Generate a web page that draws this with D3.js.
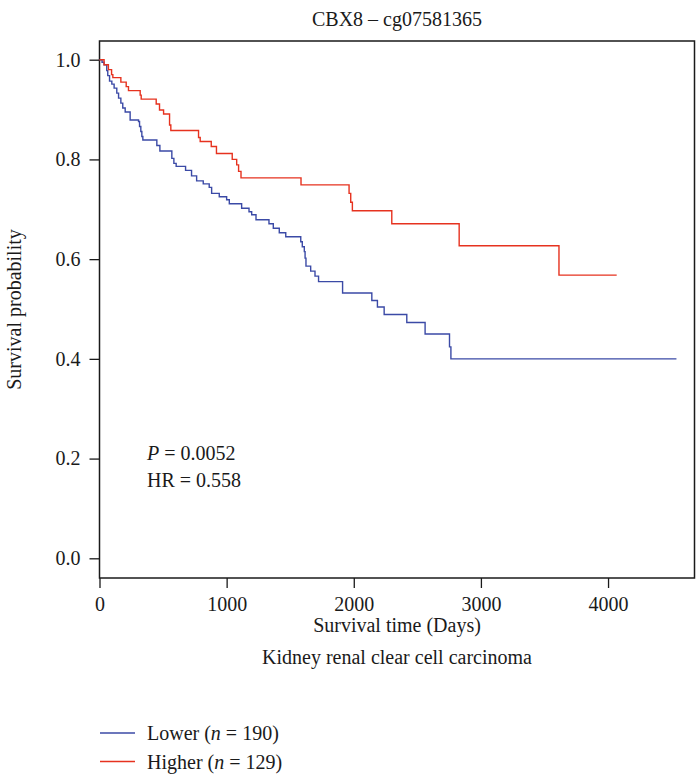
<html>
<head>
    <script src="https://cdn.jsdelivr.net/npm/d3@7"></script>
    <style>
        body {
            margin: 0;
            background: white;
            font-family: "Liberation Serif", "DejaVu Serif", serif;
        }
        svg text {
            fill: #1a1a1a;
        }
    </style>
</head>
<body>
<svg id="KMChart"></svg>
<script>
    // step points (days, survival probability)
    let lowerDays = [0, 20, 36, 57, 65, 79, 97, 115, 136, 150, 168, 183, 202, 241, 307, 315, 325, 333, 341,
        451, 475, 569, 585, 603, 677, 724, 764, 816, 863, 882, 942, 1000, 1021, 1118, 1176, 1197, 1231,
        1333, 1367, 1414, 1465, 1583, 1595, 1611, 1617, 1624, 1661, 1695, 1723, 1912, 2142, 2186, 2239,
        2417, 2561, 2753, 2764, 4538];
    let lowerSurv = [1.0, 0.995, 0.990, 0.978, 0.968, 0.957, 0.951, 0.943, 0.933, 0.923, 0.913, 0.903, 0.895, 0.879, 0.876, 0.866, 0.856, 0.846, 0.839,
        0.828, 0.817, 0.802, 0.792, 0.786, 0.778, 0.767, 0.757, 0.751, 0.744, 0.732, 0.725, 0.719, 0.711, 0.702, 0.695, 0.689, 0.679,
        0.671, 0.662, 0.653, 0.645, 0.635, 0.625, 0.615, 0.602, 0.586, 0.576, 0.566, 0.555, 0.532, 0.517, 0.504, 0.489,
        0.473, 0.450, 0.424, 0.400, 0.400];

    let higherDays = [0, 36, 70, 95, 105, 168, 210, 228, 320, 328, 446, 472, 504, 551, 561, 779, 792, 879, 920,
        1044, 1079, 1094, 1113, 1585, 1963, 1976, 1989, 2299, 2829, 3614, 4068];
    let higherSurv = [1.0, 0.990, 0.980, 0.970, 0.964, 0.955, 0.946, 0.938, 0.929, 0.921, 0.911, 0.899, 0.891, 0.869, 0.858, 0.844, 0.836, 0.826, 0.812,
        0.800, 0.789, 0.776, 0.763, 0.749, 0.732, 0.714, 0.697, 0.671, 0.627, 0.568, 0.568];

    let xTicks = [0, 1000, 2000, 3000, 4000];
    let yTicks = [0.0, 0.2, 0.4, 0.6, 0.8, 1.0];

    let groupNames = ["Lower", "Higher"];
    let groupCounts = [190, 129];
    let groupColors = ["#3b4aa6", "#e6321f"];

    function getConfig() {
        let width = 699;
        let height = 775;
        let box = { left: 99.5, right: 694.5, top: 41, bottom: 578 };
        let container = d3.select("#KMChart")
            .attr("width", width)
            .attr("height", height);
        return { width, height, box, container };
    }

    function getScales(config) {
        let { box } = config;
        let xScale = d3.scaleLinear()
            .domain([0, 4680])
            .range([box.left, box.right]);
        let yScale = d3.scaleLinear()
            .domain([-0.0395, 1.0375])
            .range([box.bottom, box.top]);
        return { xScale, yScale };
    }

    function drawAxes(scales, config) {
        let { xScale, yScale } = scales;
        let { container, box } = config;

        container.append("rect")
            .attr("x", box.left)
            .attr("y", box.top)
            .attr("width", box.right - box.left)
            .attr("height", box.bottom - box.top)
            .style("fill", "none")
            .style("stroke", "#1a1a1a")
            .style("stroke-width", 1.5);

        let axisX = d3.axisBottom(xScale)
            .tickValues(xTicks)
            .tickSize(10)
            .tickPadding(9)
            .tickFormat(d3.format("d"));
        let gx = container.append("g")
            .attr("transform", `translate(0,${box.bottom})`)
            .call(axisX);

        let axisY = d3.axisLeft(yScale)
            .tickValues(yTicks)
            .tickSize(10)
            .tickPadding(9)
            .tickFormat(d3.format(".1f"));
        let gy = container.append("g")
            .attr("transform", `translate(${box.left},0)`)
            .call(axisY);

        [gx, gy].forEach(g => {
            g.select(".domain").remove();
            g.selectAll(".tick line").style("stroke", "#1a1a1a").style("stroke-width", 1.3);
            g.selectAll(".tick text")
                .style("font-family", "Liberation Serif, serif")
                .style("font-size", "20px")
                .style("fill", "#1a1a1a");
        });

        let cx = (box.left + box.right) / 2;

        container.append("text")
            .attr("x", cx)
            .attr("y", 26)
            .style("text-anchor", "middle")
            .style("font-size", "20px")
            .text("CBX8 \u2013 cg07581365");

        container.append("text")
            .attr("x", cx)
            .attr("y", 632)
            .style("text-anchor", "middle")
            .style("font-size", "20px")
            .text("Survival time (Days)");

        container.append("text")
            .attr("x", cx)
            .attr("y", 664)
            .style("text-anchor", "middle")
            .style("font-size", "20px")
            .text("Kidney renal clear cell carcinoma");

        container.append("text")
            .attr("transform", `translate(21,${(box.top + box.bottom) / 2}) rotate(-90)`)
            .style("text-anchor", "middle")
            .style("font-size", "20px")
            .text("Survival probability");
    }

    function drawCurves(scales, config) {
        let { xScale, yScale } = scales;
        let { container } = config;

        let line = d3.line()
            .x(d => xScale(d[0]))
            .y(d => yScale(d[1]))
            .curve(d3.curveStepAfter);

        let series = [
            d3.zip(lowerDays, lowerSurv),
            d3.zip(higherDays, higherSurv)
        ];

        container.selectAll(".km")
            .data(series)
            .enter().append("path")
            .attr("class", "km")
            .attr("d", line)
            .style("fill", "none")
            .style("stroke", (d, i) => groupColors[i])
            .style("stroke-width", 1.4);

        let stats = container.append("g").style("font-size", "20px");
        let p = stats.append("text").attr("x", 147).attr("y", 460);
        p.append("tspan").style("font-style", "italic").text("P");
        p.append("tspan").text(" = 0.0052");
        stats.append("text").attr("x", 147).attr("y", 487).text("HR = 0.558");
    }

    function drawLegend(config) {
        let { container } = config;
        let legend = container.selectAll(".legend")
            .data(groupNames)
            .enter().append("g")
            .attr("class", "legend")
            .attr("transform", (d, i) => `translate(0,${733 + i * 28.5})`);

        legend.append("line")
            .attr("x1", 100)
            .attr("x2", 135)
            .style("stroke", (d, i) => groupColors[i])
            .style("stroke-width", 1.4);

        let label = legend.append("text")
            .attr("x", 147)
            .attr("y", 7)
            .style("font-size", "20px");
        label.append("tspan").text(d => d + " (");
        label.append("tspan").style("font-style", "italic").text("n");
        label.append("tspan").text((d, i) => " = " + groupCounts[i] + ")");
    }

    let config = getConfig();
    let scales = getScales(config);
    drawAxes(scales, config);
    drawCurves(scales, config);
    drawLegend(config);
</script>
</body>
</html>
